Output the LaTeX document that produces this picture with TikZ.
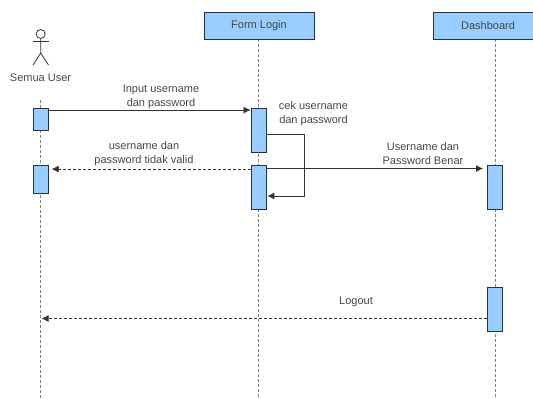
\documentclass[tikz,border=0pt]{standalone}
\usepackage{fontspec}
\setmainfont{Liberation Sans}
\usetikzlibrary{arrows.meta,positioning}
\definecolor{boxColor}{RGB}{153,204,255}
\definecolor{edgeColor}{RGB}{35,50,70}
\definecolor{labelColor}{RGB}{70,70,70}
\pgfdeclarelayer{background}
\pgfsetlayers{background,main}
\tikzset{header/.style={fill=boxColor, draw=edgeColor, line width=.9pt, inner sep=0pt, minimum height=27pt, text=labelColor, font=\fontsize{11}{14}\selectfont}}
\tikzset{activation/.style={fill=boxColor, draw=edgeColor, line width=.9pt, inner sep=0pt, minimum width=15pt}}
\tikzset{lifeline/.style={draw=gray, line width=.9pt, dash pattern=on 2.5pt off 2.5pt}}
\tikzset{message/.style={draw=black!80, line width=.8pt, -{Latex[length=7pt,width=7pt]}}}
\tikzset{reply/.style={message, dash pattern=on 3pt off 2pt}}
\tikzset{caption/.style={align=center, inner sep=0pt, text=labelColor, font=\fontsize{11}{14}\selectfont}}

\begin{document}
\begin{tikzpicture}[x=1pt, y=-1pt]
	\useasboundingbox (0,0) rectangle (533,399);
	\clip (0,0) rectangle (533,399);
	% Nodes
	\node (formlogin) [header, minimum width=110pt] at (259,25.5) {Form Login};
	\node (dashboard) [header, minimum width=110pt] at (488,25.5) {Dashboard};

	\node (userhead) [draw=black!80, line width=.8pt, circle, minimum size=9pt, inner sep=0pt] at (40.7,34) {};
	\coordinate (userhip) at (40.7,53);
	\coordinate (userarml) at (33,41.5);
	\coordinate (userarmr) at (48.5,41.5);
	\coordinate (userlegl) at (33,65);
	\coordinate (userlegr) at (48.5,65);
	\node (user) [caption] at (40.5,78) {Semua User};

	\node (userinput) [activation, minimum height=22pt] at (40.7,119) {};
	\node (userinvalid) [activation, minimum height=28pt] at (40.7,179) {};
	\node (formcheck) [activation, minimum height=44pt] at (258.5,130) {};
	\node (formresult) [activation, minimum height=44pt] at (258.5,187) {};
	\node (dashopen) [activation, minimum height=44pt] at (495,187) {};
	\node (dashlogout) [activation, minimum height=44pt] at (495,309.5) {};

	\coordinate (usertop) at (40.7,100);
	\coordinate (userend) at (40.7,399);
	\coordinate (formend) at (258.5,399);
	\coordinate (dashend) at (495,399);
	\coordinate (dashtop) at (495,39);
	\coordinate (formtop) at (258.5,39);

	\begin{pgfonlayer}{background}
	\draw [lifeline] (usertop) -- (userend);
	\draw [lifeline] (formtop) -- (formend);
	\draw [lifeline] (dashtop) -- (dashend);
	\end{pgfonlayer}

	% Actor
	\draw [draw=black!80, line width=.8pt] (userhead.south) -- (userhip) -- (userlegl);
	\draw [draw=black!80, line width=.8pt] (userhip) -- (userlegr);
	\draw [draw=black!80, line width=.8pt] (userarml) -- (userarmr);

	% Connectors
	\coordinate (loopa) at (304.5,134.5);
	\coordinate (loopb) at (304.5,196);
	\coordinate (logoutend) at (41.5,318.5);

	\draw [message] ([yshift=-2.5pt]userinput.north east) -- ([yshift=-2.5pt]formcheck.north west);
	\draw [reply] ([yshift=-4.5pt]formresult.north west) -- ([xshift=3pt,yshift=-4.5pt]userinvalid.north east);
	\draw [draw=black!80, line width=.8pt, -{Latex[length=7pt,width=7pt]}] (formcheck.east |- loopa) -- (loopa) -- (loopb) -- ([xshift=1pt]formresult.east |- loopb);
	\draw [message] ([xshift=1pt,yshift=-4pt]formresult.north east) -- ([xshift=-4pt,yshift=-4pt]dashopen.north west);
	\draw [reply] (dashlogout.west |- logoutend) -- (logoutend);

	% Labels
	\node (inputlabel) [caption] at (161,96.5) {Input username\\dan password};
	\node (invalidlabel) [caption] at (144,153.5) {username dan\\password tidak valid};
	\node (checklabel) [caption] at (313.5,114) {cek username\\dan password};
	\node (validlabel) [caption] at (423,153.5) {Username dan\\Password Benar};
	\node (logoutlabel) [caption] at (356,302) {Logout};
\end{tikzpicture}
\end{document}
